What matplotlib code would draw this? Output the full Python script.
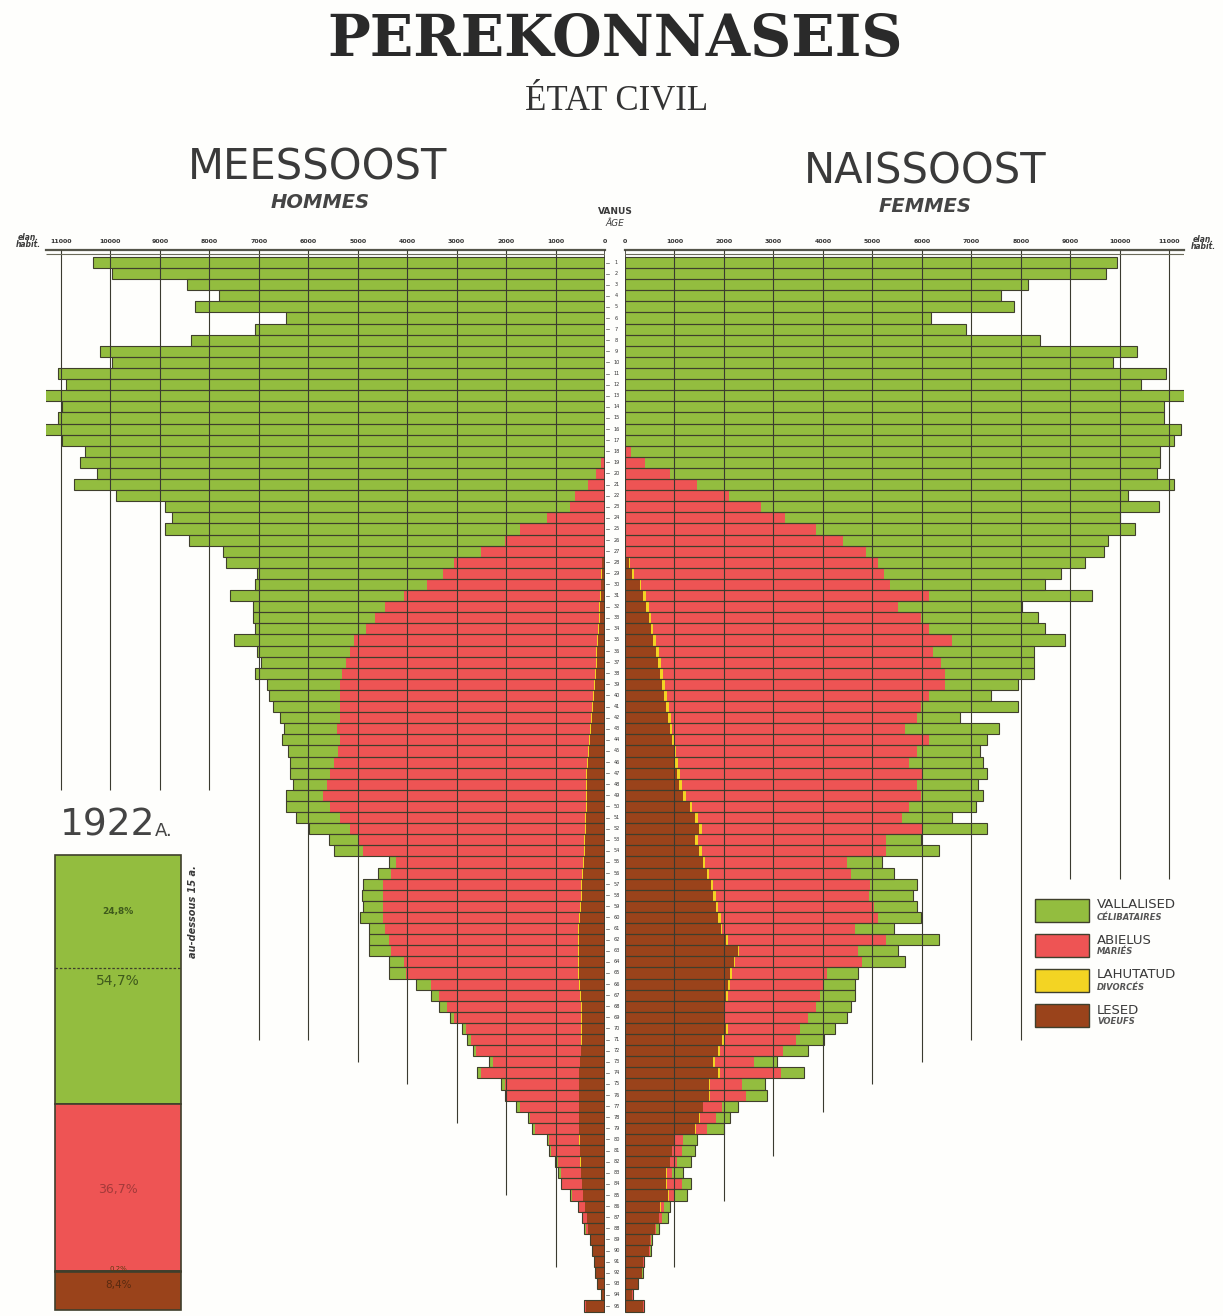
import numpy as np
import matplotlib.pyplot as plt
from matplotlib.patches import Rectangle

# one bar per year of age, 0 ... 94 (last one is the oldest group)
ages = np.arange(95)

men_single = [10360, 9970, 8440, 7810, 8280, 6450, 7080, 8360, 10200, 9970, 11050, 10890,
              11590, 10980, 11060, 11400, 10980, 10520, 10540, 10090, 10380, 9290,
              8200, 7580, 7180, 6370, 5230, 4610, 3750, 3490, 3520, 2660, 2470, 2240,
              2420, 1870, 1720, 1770, 1470, 1440, 1360, 1200, 1060, 1160, 1010, 890,
              810, 675, 750, 900, 890, 820, 580, 580,
              150, 250, 400, 430, 400, 470, 320, 400, 440, 310, 350, 310, 160, 160, 75, 80,
              80, 50, 70, 80, 80, 50, 80, 40, 70, 45, 50, 80, 50, 30, 40, 30, 30, 30,
              15, 15, 10, 10, 10, 5, 20]
men_married = [0] * 18 + [80, 180, 350, 600,
               690, 1160, 1710, 2020, 2490, 2980, 3200, 3500, 3950, 4330, 4510, 4690,
               4910, 4980, 5040, 5100, 5140, 5120, 5100, 5080, 5120, 5040, 5060, 5110,
               5170, 5245, 5310, 5160, 4960, 4750, 4580, 4460, 3785, 3870, 4010, 4000,
               3980, 3950, 3910, 3830, 3790, 3525, 3485, 3000, 2860, 2710, 2560, 2320,
               2220, 2120, 1760, 1970, 1500, 1450, 1190, 990, 880, 605, 580, 440, 400,
               390, 220, 120, 80, 50, 15, 10, 10, 5, 5, 5, 20]
men_divorced = [0] * 22 + [10] * 8 + [20] * 40 + [10] * 13 + [0] * 12
men_widowed = [0] * 27 + [60, 70, 80, 90, 100, 110, 130, 150, 160, 170, 190, 200, 220, 240,
               260, 280, 300, 320, 340,
               360, 360, 370, 370, 380, 390, 400, 410, 420, 440, 460, 470, 490, 510,
               520, 520, 520, 520, 520, 500, 480, 470, 470, 470,
               470, 480, 500, 520, 520, 520, 520, 520, 520, 510, 500, 490, 480,
               470, 440, 400, 360, 340, 280, 245, 210, 185, 145, 70, 380]

women_single = [9950, 9720, 8140, 7610, 7870, 6190, 6900, 8390, 10350, 9870, 10940, 10440,
                11610, 10900, 10900, 11230, 11100, 10700, 10420, 9860, 9650, 8060,
                8040, 6770, 6450, 5350, 4810, 4170, 3580, 3150, 3310, 2520, 2370, 2360,
                2290, 2050, 1890, 1810, 1490, 1260, 1970, 860, 1890, 1180, 1260, 1490,
                1290, 1230, 1260, 1340, 1020, 1290, 700, 1070, 710, 860, 940, 900, 860,
                860, 780, 1070, 790, 870, 630, 630, 710, 710, 790, 710,
                560, 500, 470, 470, 470, 440, 310, 290, 350, 280, 270, 280, 235, 190,
                240, 110, 130, 50, 20, 20, 10, 10, 5, 5, 10]
women_married = [0] * 17 + [120, 400, 900, 1450, 2100,
                 2720, 3200, 3830, 4380, 4850, 5010, 5060, 5020, 5720, 5030, 5450, 5570,
                 5990, 5540, 5660, 5700, 5660, 5300, 5100, 4990, 4710, 5140, 4875, 4680,
                 4920, 4750, 4750, 4390, 4120, 4480, 3810, 3730, 2870, 2870, 3180, 3100,
                 3150, 3180, 2680, 3200, 2410, 2570, 1930, 1900, 1860, 1830, 1670, 1460,
                 1460, 1280, 790, 1230, 640, 720, 390, 330, 220, 180, 195, 150, 105, 310,
                 140, 70, 50, 20, 20, 15, 10, 10, 7, 5, 10]
women_divorced = [0] * 22 + [30] * 8 + [50] * 30 + [30] * 16 + [10] * 11 + [0] * 8
women_widowed = [0] * 27 + [80, 150, 300, 370, 430, 480, 520, 570, 630, 670, 710, 750, 790,
                 830, 870, 910, 950, 985, 1020,
                 1060, 1100, 1180, 1310, 1420, 1500, 1420, 1500, 1570, 1650, 1730, 1780,
                 1840, 1890, 1940, 2050, 2280, 2200, 2130, 2090, 2050, 2000, 2000, 2050,
                 1970, 1890, 1780, 1890, 1690, 1690, 1570, 1500, 1420, 990, 945, 900, 830,
                 830, 870, 710, 680, 610, 510, 485, 370, 340, 258, 150, 370]

# 1922 totals, percent of whole population
share_labels = ['54,7%', '36,7%', '0,2%', '8,4%']
shares = [54.7, 36.7, 0.2, 8.4]
under15 = 24.8

ticks = list(range(0, 12000, 1000))

GREEN = '#93bd3f'
RED = '#ee5454'
YELLOW = '#f3d423'
BROWN = '#9a431b'
EDGE = '#3f3f2c'
GRID = '#3a3a30'
TXT = '#3a3a3a'

W, H = 1223, 1316


def box(x0, y0, x1, y1):
    return [x0 / W, 1 - y1 / H, (x1 - x0) / W, (y1 - y0) / H]


def ftext(x, y, s, **kw):
    kw.setdefault('ha', 'center')
    kw.setdefault('va', 'center')
    kw.setdefault('color', TXT)
    fig.text(x / W, 1 - y / H, s, **kw)


fig = plt.figure(figsize=(W / 100, H / 100), dpi=100)
fig.patch.set_facecolor('#fefefc')

YLIM = (94.9, -1.13)


def pyramid(ax, single, married, divorced, widowed, grid_end):
    left = np.zeros(len(ages))
    for vals, col in [(widowed, BROWN), (divorced, YELLOW), (married, RED), (single, GREEN)]:
        vals = np.asarray(vals, float)
        ax.barh(ages, vals, left=left, height=1.0, color=col, edgecolor='none', zorder=2)
        left += vals
    ax.barh(ages, left, height=1.0, fill=False, edgecolor=EDGE, linewidth=0.8, zorder=3)
    for v, end in grid_end.items():
        ax.vlines(v, -1.1, end, color=GRID, lw=0.8, zorder=4)
    ax.vlines(0, -1.1, 94.5, color=GRID, lw=1.2, zorder=4)
    ax.hlines(-0.8, 0, 11300, color='#6b6b5a', lw=0.8, zorder=4)
    ax.set_ylim(*YLIM)
    ax.set_facecolor('none')
    for s in ['left', 'right', 'bottom']:
        ax.spines[s].set_visible(False)
    ax.spines['top'].set_linewidth(1.6)
    ax.spines['top'].set_color('#55554a')
    ax.xaxis.tick_top()
    ax.set_xticks(ticks)
    ax.set_xticklabels([str(t) for t in ticks], fontsize=4.5, fontweight='bold', color='#333')
    ax.tick_params(axis='x', length=0, pad=4)
    ax.set_yticks([])


axL = fig.add_axes(box(46, 250, 605, 1316))
axL.set_xlim(11300, 0)
pyramid(axL, men_single, men_married, men_divorced, men_widowed,
        {11000: 47.5, 10000: 47.5, 9000: 47.5, 8000: 47.5, 7000: 70, 6000: 70,
         5000: 72, 4000: 74, 3000: 77.5, 2000: 84, 1000: 90.5})

axR = fig.add_axes(box(625, 250, 1184, 1316))
axR.set_xlim(0, 11300)
pyramid(axR, women_single, women_married, women_divorced, women_widowed,
        {11000: 55.5, 10000: 55.5, 9000: 55.5, 8000: 70, 7000: 70, 6000: 72,
         5000: 74, 4000: 76.5, 3000: 80.5, 2000: 84.5, 1000: 90.5})

# age strip in the middle
axC = fig.add_axes(box(606, 250, 624, 1316))
axC.set_ylim(*YLIM)
axC.set_xlim(0, 1)
axC.axis('off')
for a in ages:
    axC.text(0.58, a, str(a + 1), fontsize=3.6, ha='center', va='center', color='#333')
    axC.plot([0.0, 0.18], [a, a], color='#555', lw=0.5)

# titles
ftext(615, 40, 'PEREKONNASEIS', fontsize=41, fontweight='bold', family='DejaVu Serif',
      color='#2a2a2a')
ftext(617, 101, 'ÉTAT CIVIL', fontsize=25, family='Liberation Serif', color='#333')
ftext(318, 168, 'MEESSOOST', fontsize=30, family='DejaVu Sans', color='#3a3a3a')
ftext(320, 202, 'HOMMES', fontsize=14, fontweight='bold', style='italic', color='#454545')
ftext(925, 172, 'NAISSOOST', fontsize=30, family='DejaVu Sans', color='#3a3a3a')
ftext(925, 206, 'FEMMES', fontsize=14, fontweight='bold', style='italic', color='#454545')
ftext(615, 212, 'VANUS', fontsize=6.5, fontweight='bold')
ftext(615, 223, 'ÂGE', fontsize=6.5, style='italic')
ftext(28, 241, 'elan.\nhabit.', fontsize=5.5, style='italic', fontweight='bold',
      linespacing=0.8)
ftext(1203, 243, 'elan.\nhabit.', fontsize=5.5, style='italic', fontweight='bold',
      linespacing=0.8)

# 1922 summary column
ftext(60, 826, '1922', fontsize=27, ha='left', color='#444')
ftext(155, 831, 'A.', fontsize=13, ha='left', color='#444')
ftext(193, 912, 'au-dessous 15 a.', fontsize=7, style='italic', fontweight='bold',
      rotation=90)

axI = fig.add_axes(box(55, 855, 181, 1310))
axI.set_xlim(0, 1)
axI.set_ylim(100, 0)
axI.axis('off')
bottom = 0
for s, col in zip(shares, [GREEN, RED, YELLOW, BROWN]):
    axI.bar(0.5, s, bottom=bottom, width=1.0, color=col, edgecolor=EDGE, linewidth=1.2,
            clip_on=False)
    bottom += s
axI.hlines(under15, 0, 1, color=EDGE, lw=0.9, linestyles=(0, (2, 1.5)))
axI.text(0.5, under15 / 2, '24,8%', fontsize=6.5, fontweight='bold', color='#3f5a1c',
         ha='center', va='center')
axI.text(0.5, 27.6, share_labels[0], fontsize=10, color='#3f5a1c', ha='center', va='center')
axI.text(0.5, 73.6, share_labels[1], fontsize=9, color='#a33a3a', ha='center', va='center')
axI.text(0.5, 90.9, share_labels[2], fontsize=5, color='#5a3a10', ha='center', va='center')
axI.text(0.5, 94.6, share_labels[3], fontsize=7.5, color='#5a2a10', ha='center', va='center')

# legend
legend = [('VALLALISED', 'CÉLIBATAIRES', GREEN), ('ABIELUS', 'MARIÉS', RED),
          ('LAHUTATUD', 'DIVORCÉS', YELLOW), ('LESED', 'VOEUFS', BROWN)]
for i, (et, fr, col) in enumerate(legend):
    y0 = 899 + 35 * i
    fig.patches.append(Rectangle((1035 / W, 1 - (y0 + 23) / H), 54 / W, 23 / H,
                                 transform=fig.transFigure, facecolor=col,
                                 edgecolor=EDGE, linewidth=1.0))
    ftext(1097, y0 + 6, et, fontsize=9.5, ha='left')
    ftext(1097, y0 + 18, fr, fontsize=6, style='italic', fontweight='bold', ha='left',
          color='#555')

fig.savefig('out.png', dpi=100, facecolor=fig.get_facecolor())
